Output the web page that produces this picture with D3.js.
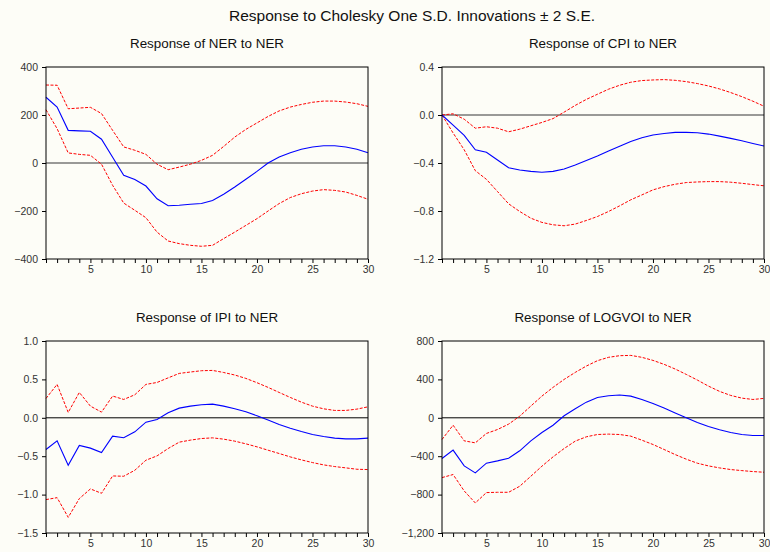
<!DOCTYPE html>
<html lang="en">
<head>
    <meta charset="UTF-8">
    <title>Response to Cholesky One S.D. Innovations</title>
    <script src="https://cdn.jsdelivr.net/npm/d3@7"></script>
    <style>
        html, body {
            margin: 0;
            background: #fdfdf7;
        }

        text {
            font-family: "Liberation Sans", Arial, sans-serif;
        }

        .axis text {
            font-size: 10.5px;
            fill: #333;
        }

        .axis path, .axis line {
            stroke: #000;
        }
    </style>
</head>
<body>
<div class="chart"></div>

<script>
    var periods = d3.range(1, 31);

    var nerMid = [274, 233, 136, 134, 132, 99, 24, -51, -69, -96, -149, -178, -176, -172, -169,
        -156, -130, -100, -68, -35, 0, 25, 43, 57, 67, 72, 72, 67, 57, 43];
    var nerUp = [325, 324, 226, 229, 232, 206, 136, 67, 53, 36, -5, -28, -17, -5, 11,
        32, 69, 108, 140, 167, 194, 217, 233, 244, 253, 258, 258, 254, 247, 236];
    var nerLo = [222, 143, 42, 36, 32, -5, -93, -167, -197, -228, -288, -325, -336, -343, -347,
        -343, -315, -288, -260, -232, -200, -169, -144, -128, -117, -111, -114, -121, -135, -151];

    var cpiMid = [0, -0.084, -0.17, -0.29, -0.31, -0.375, -0.44, -0.458, -0.47, -0.477, -0.47, -0.45, -0.417, -0.38, -0.342,
        -0.30, -0.26, -0.22, -0.19, -0.167, -0.154, -0.145, -0.145, -0.148, -0.159, -0.176, -0.195, -0.214, -0.237, -0.259];
    var cpiUp = [0, 0.01, -0.035, -0.11, -0.098, -0.11, -0.14, -0.118, -0.09, -0.062, -0.03, 0.024, 0.08, 0.13, 0.173,
        0.215, 0.248, 0.273, 0.287, 0.292, 0.295, 0.289, 0.278, 0.262, 0.242, 0.217, 0.187, 0.153, 0.115, 0.073];
    var cpiLo = [0, -0.15, -0.29, -0.464, -0.536, -0.638, -0.74, -0.804, -0.86, -0.895, -0.915, -0.923, -0.909, -0.879, -0.846,
        -0.804, -0.757, -0.707, -0.666, -0.624, -0.597, -0.577, -0.563, -0.558, -0.555, -0.555, -0.56, -0.569, -0.58, -0.59];

    var ipiMid = [-0.413, -0.30, -0.617, -0.36, -0.395, -0.452, -0.239, -0.26, -0.183, -0.057, -0.022, 0.065, 0.126, 0.152, 0.17,
        0.178, 0.152, 0.117, 0.078, 0.026, -0.03, -0.087, -0.135, -0.178, -0.217, -0.243, -0.265, -0.274, -0.274, -0.265];
    var ipiUp = [0.252, 0.435, 0.07, 0.33, 0.152, 0.074, 0.283, 0.239, 0.30, 0.435, 0.46, 0.52, 0.578, 0.596, 0.613,
        0.617, 0.59, 0.557, 0.513, 0.457, 0.396, 0.33, 0.265, 0.204, 0.152, 0.117, 0.096, 0.096, 0.113, 0.143];
    var ipiLo = [-1.065, -1.04, -1.296, -1.052, -0.926, -0.983, -0.757, -0.761, -0.683, -0.552, -0.496, -0.40, -0.317, -0.291, -0.27,
        -0.261, -0.278, -0.304, -0.339, -0.378, -0.422, -0.465, -0.509, -0.548, -0.583, -0.613, -0.635, -0.652, -0.67, -0.674];

    var voiMid = [-424, -337, -501, -574, -473, -449, -421, -344, -240, -153, -77, 21, 94, 163, 212,
        230, 237, 226, 191, 150, 101, 49, 0, -49, -90, -125, -153, -174, -184, -184];
    var voiUp = [-226, -77, -240, -261, -163, -122, -66, 17, 122, 226, 317, 400, 473, 539, 595,
        630, 647, 650, 630, 598, 557, 508, 452, 393, 330, 275, 233, 205, 191, 202];
    var voiLo = [-623, -591, -762, -887, -779, -776, -776, -713, -609, -504, -407, -320, -243, -198, -174,
        -170, -174, -191, -233, -278, -330, -383, -431, -473, -501, -522, -539, -550, -560, -567];

    var xTickLabels = [5, 10, 15, 20, 25, 30];

    var panels = [
        {title: 'Response of NER to NER', mid: nerMid, up: nerUp, lo: nerLo,
            domain: [-400, 400], ticks: [400, 200, 0, -200, -400], fmt: d3.format('d'),
            left: 46, top: 67, zeroGray: true},
        {title: 'Response of CPI to NER', mid: cpiMid, up: cpiUp, lo: cpiLo,
            domain: [-1.2, 0.4], ticks: [0.4, 0, -0.4, -0.8, -1.2], fmt: d3.format('.1f'),
            left: 442, top: 67, zeroGray: true},
        {title: 'Response of IPI to NER', mid: ipiMid, up: ipiUp, lo: ipiLo,
            domain: [-1.5, 1.0], ticks: [1.0, 0.5, 0, -0.5, -1.0, -1.5], fmt: d3.format('.1f'),
            left: 46, top: 341, zeroGray: false},
        {title: 'Response of LOGVOI to NER', mid: voiMid, up: voiUp, lo: voiLo,
            domain: [-1200, 800], ticks: [800, 400, 0, -400, -800, -1200], fmt: d3.format(',d'),
            left: 442, top: 341, zeroGray: false}
    ];

    var width = 770, height = 552;
    var pw = 322, ph = 192;

    var svg = d3.select('.chart').append('svg')
        .attr('width', width).attr('height', height);

    svg.append('rect').attr('width', width).attr('height', height).attr('fill', '#fdfdf7');

    svg.append('text')
        .attr('x', 412).attr('y', 20.5)
        .attr('text-anchor', 'middle')
        .attr('font-size', '15.5px')
        .attr('fill', '#111')
        .text('Response to Cholesky One S.D. Innovations \u00b1 2 S.E.');

    panels.forEach(function (p) {
        var g = svg.append('g').attr('transform', 'translate(' + p.left + ',' + p.top + ')');

        var x = d3.scaleLinear().domain([1, 30]).range([0, pw]);
        var y = d3.scaleLinear().domain(p.domain).range([ph, 0]);

        g.append('text')
            .attr('x', pw / 2).attr('y', -19.5)
            .attr('text-anchor', 'middle')
            .attr('font-size', '13.4px')
            .attr('fill', '#111')
            .text(p.title);

        // zero line
        g.append('line')
            .attr('x1', 0).attr('x2', pw)
            .attr('y1', y(0)).attr('y2', y(0))
            .attr('stroke', p.zeroGray ? '#777' : '#000')
            .attr('stroke-width', p.zeroGray ? 1.6 : 1);

        var line = d3.line()
            .x(function (d, i) { return x(periods[i]); })
            .y(function (d) { return y(d); });

        g.append('path').attr('d', line(p.up))
            .attr('fill', 'none').attr('stroke', '#ff0000').attr('stroke-width', 1)
            .attr('stroke-dasharray', '3,1.5');
        g.append('path').attr('d', line(p.lo))
            .attr('fill', 'none').attr('stroke', '#ff0000').attr('stroke-width', 1)
            .attr('stroke-dasharray', '3,1.5');
        g.append('path').attr('d', line(p.mid))
            .attr('fill', 'none').attr('stroke', '#0000ff').attr('stroke-width', 1.1);

        // frame
        g.append('rect')
            .attr('width', pw).attr('height', ph)
            .attr('fill', 'none').attr('stroke', '#000').attr('stroke-width', 1);

        var xAxis = d3.axisBottom(x).tickValues(periods).tickSize(4).tickPadding(3)
            .tickFormat(function (d) { return xTickLabels.indexOf(d) >= 0 ? d : ''; });
        g.append('g').attr('class', 'axis')
            .attr('transform', 'translate(0,' + ph + ')')
            .call(xAxis)
            .call(function (a) { a.select('.domain').remove(); });

        var yAxis = d3.axisLeft(y).tickValues(p.ticks).tickSize(4).tickPadding(4).tickFormat(p.fmt);
        g.append('g').attr('class', 'axis')
            .call(yAxis)
            .call(function (a) { a.select('.domain').remove(); });
    });
</script>
</body>
</html>
